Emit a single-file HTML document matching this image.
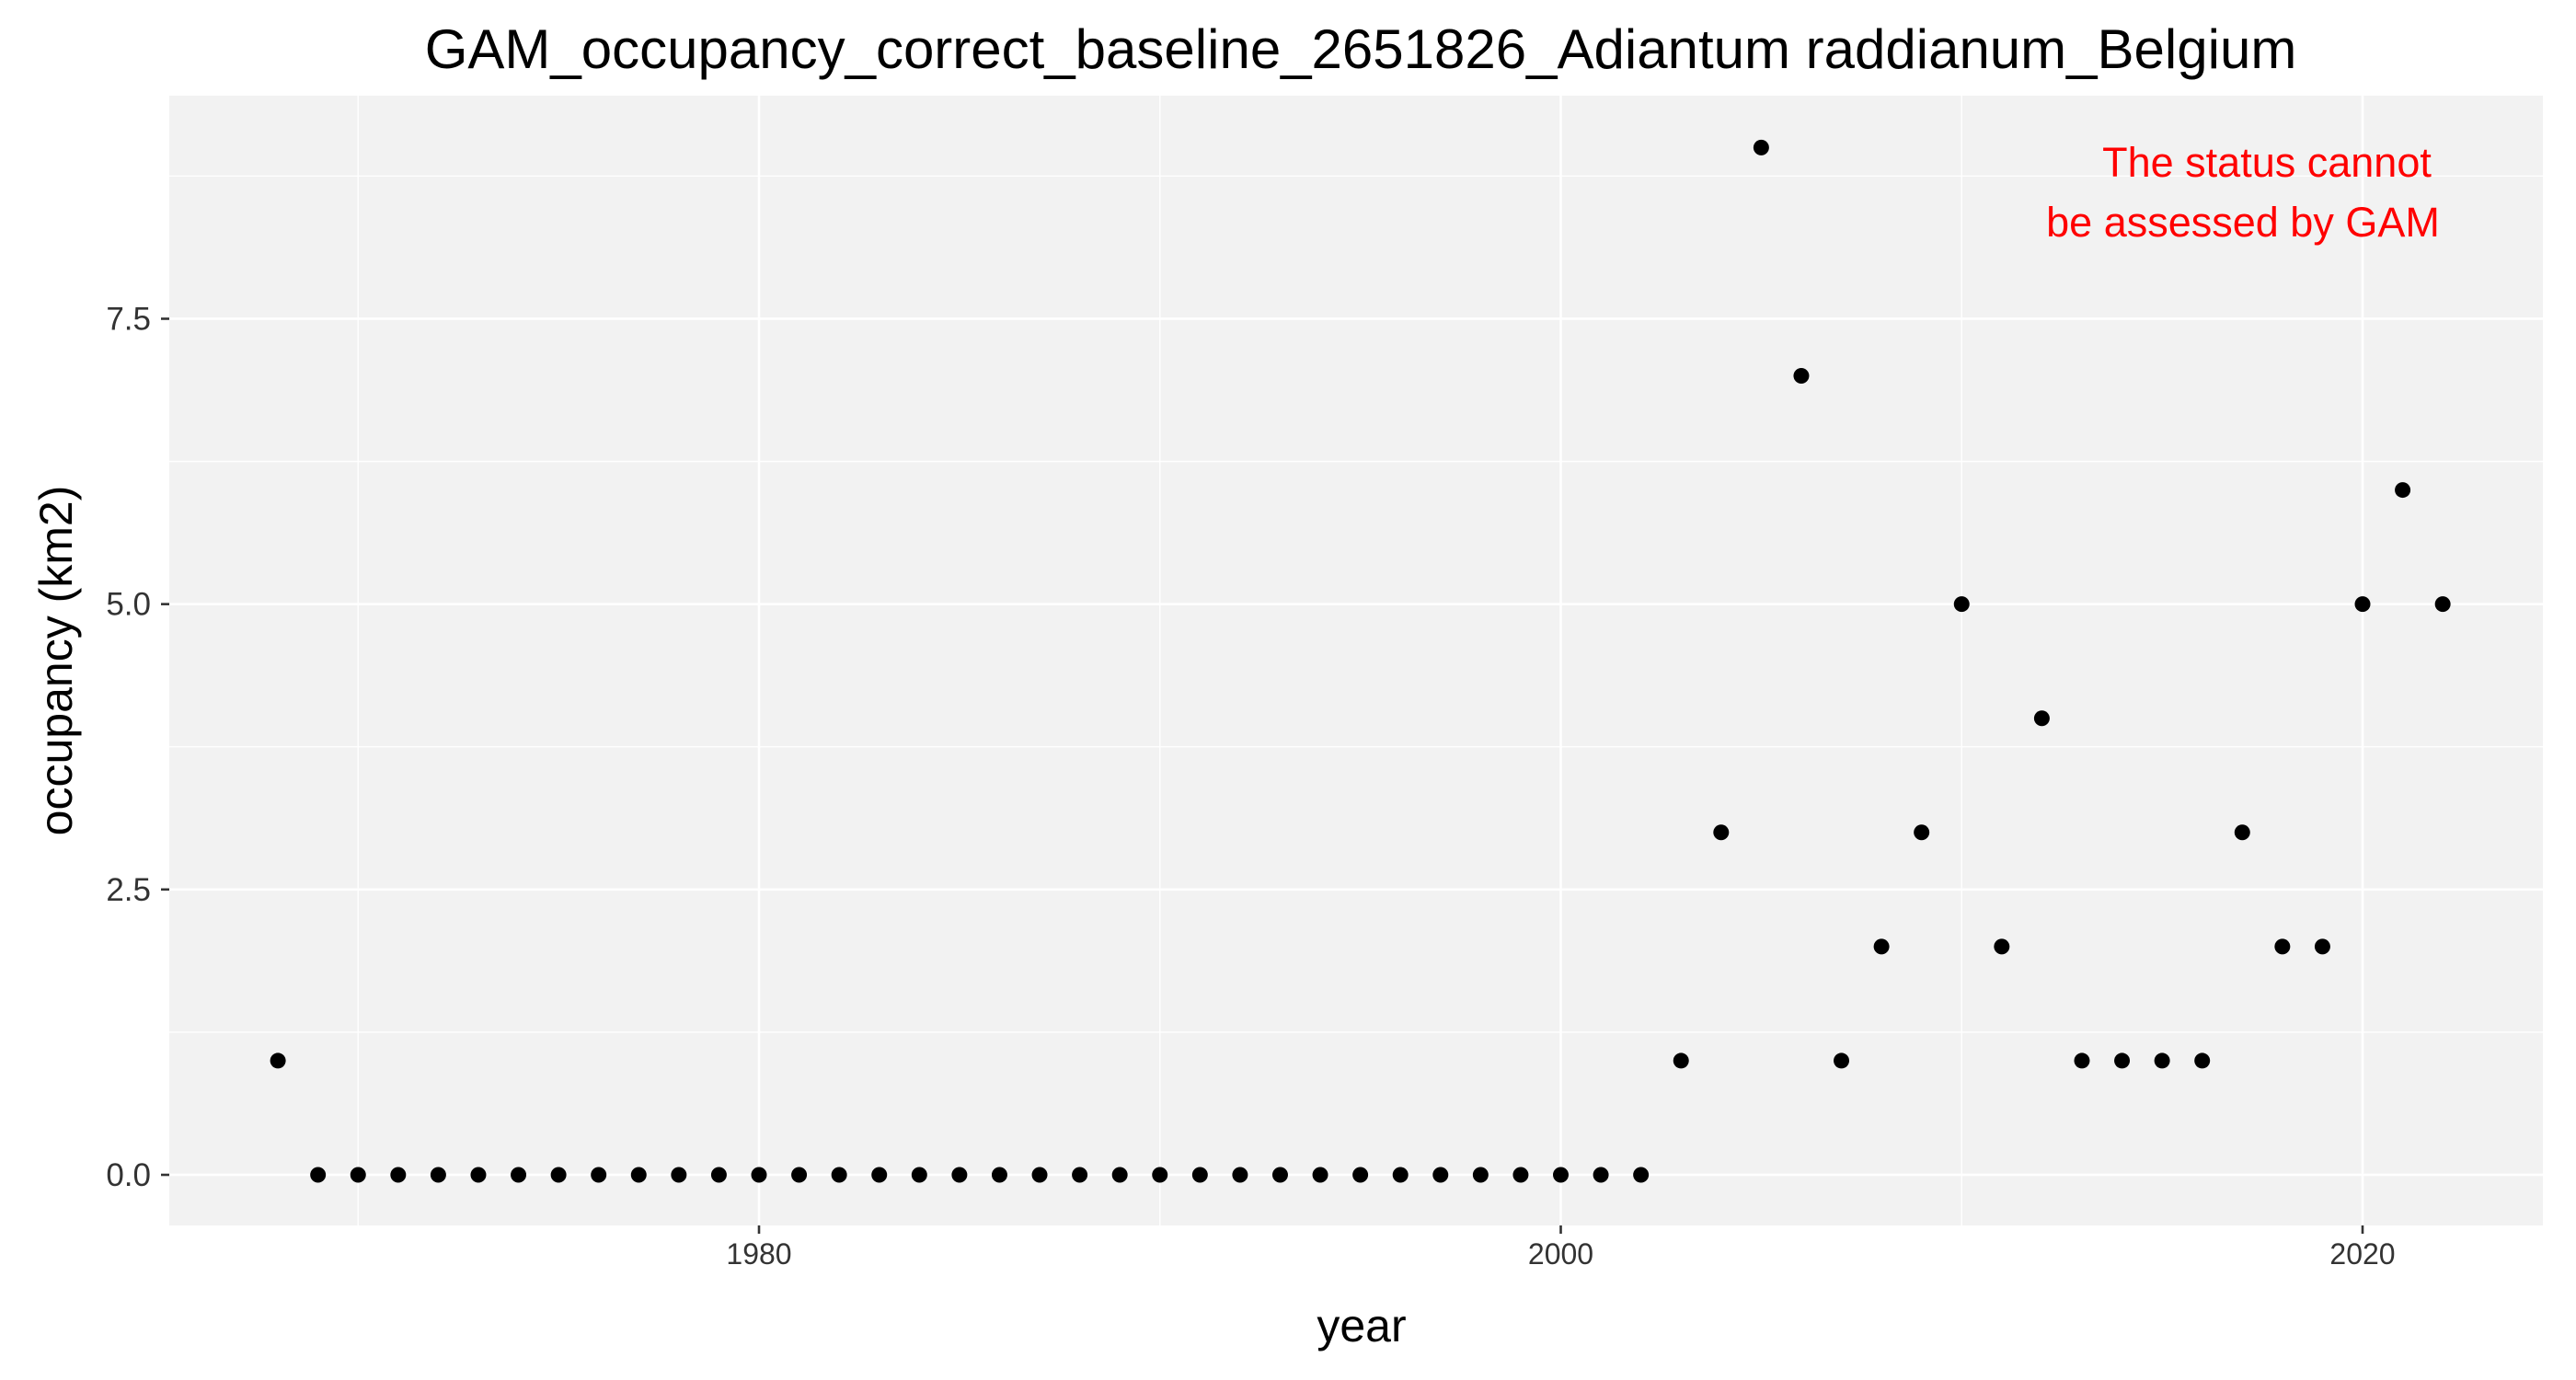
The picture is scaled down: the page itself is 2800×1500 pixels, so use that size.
<!DOCTYPE html>
<html><head><meta charset="utf-8"><style>html,body{margin:0;padding:0;background:#fff}svg{display:block;font-family:"Liberation Sans",Arial,sans-serif}</style></head>
<body>
<svg id="chart" width="2800" height="1500" viewBox="0 0 2800 1500" xmlns="http://www.w3.org/2000/svg">
<rect x="0" y="0" width="2800" height="1500" fill="#fff"/>
<rect x="184" y="104" width="2580" height="1228" fill="#f2f2f2"/>
<g id="grid"></g>
<g id="ticks"></g>
<g id="points"></g>
<text x="1479" y="74" font-size="60" text-anchor="middle" fill="#000">GAM_occupancy_correct_baseline_2651826_Adiantum raddianum_Belgium</text>
<text x="1480" y="1458" font-size="50" text-anchor="middle" fill="#000">year</text>
<text transform="translate(78,718) rotate(-90)" font-size="50" text-anchor="middle" fill="#000">occupancy (km2)</text>
<text x="2464" y="192" font-size="45" text-anchor="middle" fill="#ff0000">The status cannot</text>
<text x="2438" y="257" font-size="45" text-anchor="middle" fill="#ff0000">be assessed by GAM</text>
</svg>
<script>
const years = [1968,1969,1970,1971,1972,1973,1974,1975,1976,1977,1978,1979,1980,1981,1982,1983,1984,1985,1986,1987,1988,1989,1990,1991,1992,1993,1994,1995,1996,1997,1998,1999,2000,2001,2002,2003,2004,2005,2006,2007,2008,2009,2010,2011,2012,2013,2014,2015,2016,2017,2018,2019,2020,2021,2022];
const occupancy = [1,0,0,0,0,0,0,0,0,0,0,0,0,0,0,0,0,0,0,0,0,0,0,0,0,0,0,0,0,0,0,0,0,0,0,1,3,9,7,1,2,3,5,2,4,1,1,1,1,3,2,2,5,6,5];
const xTicks = [1980,2000,2020];
const xMinor = [1970,1990,2010];
const yTicks = [0,2.5,5,7.5];
const yTickLabels = ["0.0","2.5","5.0","7.5"];
const yMinor = [1.25,3.75,6.25,8.75];
const NS="http://www.w3.org/2000/svg";
const X0=184,X1=2764,Y0=104,Y1=1332;
function xs(v){return 825+(v-1980)*43.575;}
function ys(v){return 1277-v*124.07;}
function mk(tag,attrs,parent){const e=document.createElementNS(NS,tag);for(const k in attrs)e.setAttribute(k,attrs[k]);parent.appendChild(e);return e;}
const g=document.getElementById('grid'),t=document.getElementById('ticks'),p=document.getElementById('points');
xMinor.forEach(v=>{const l=mk('line',{x1:xs(v),x2:xs(v),y1:Y0,y2:Y1,stroke:'#fff','stroke-width':1.3},g);

});
yMinor.forEach(v=>{const l=mk('line',{x1:X0,x2:X1,y1:ys(v),y2:ys(v),stroke:'#fff','stroke-width':1.3},g);

});
xTicks.forEach(v=>{const l=mk('line',{x1:xs(v),x2:xs(v),y1:Y0,y2:Y1,stroke:'#fff','stroke-width':2.6},g);


const tk=mk('line',{x1:xs(v),x2:xs(v),y1:Y1,y2:Y1+9,stroke:'#333','stroke-width':2.6},t);


const tx=mk('text',{x:xs(v),y:Y1+42,'font-size':32,'text-anchor':'middle',fill:'#333'},t);tx.textContent=v;

});
yTicks.forEach((v,i)=>{const l=mk('line',{x1:X0,x2:X1,y1:ys(v),y2:ys(v),stroke:'#fff','stroke-width':2.6},g);


const tk=mk('line',{x1:X0-9,x2:X0,y1:ys(v),y2:ys(v),stroke:'#333','stroke-width':2.6},t);


const tx=mk('text',{x:X0-20,y:ys(v)+12,'font-size':35,'text-anchor':'end',fill:'#333'},t);tx.textContent=yTickLabels[i];

});
years.forEach((yr,i)=>{const c=mk('circle',{cx:xs(yr),cy:ys(occupancy[i]),r:8.5,fill:'#000'},p);

});
</script>
</body></html>
